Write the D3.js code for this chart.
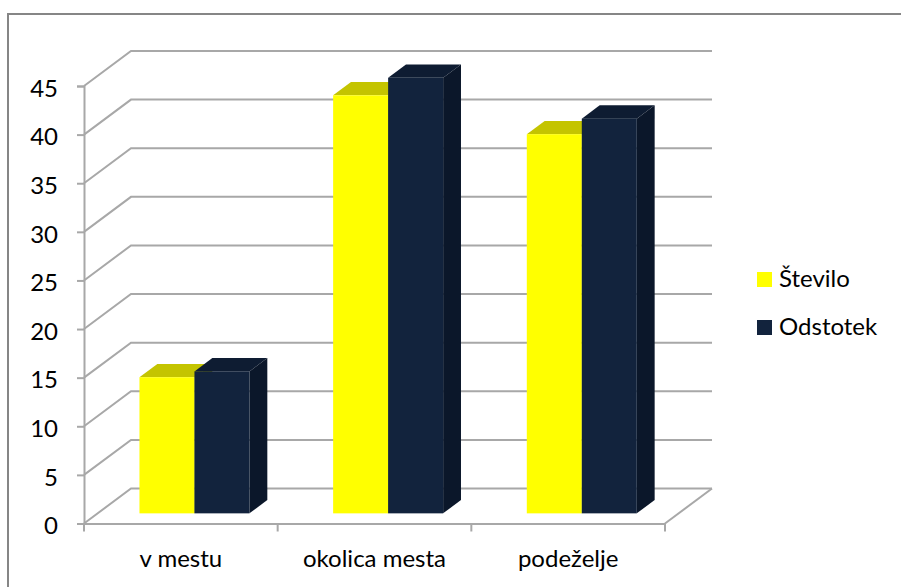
<!DOCTYPE html>
<html>
<head>
<meta charset="utf-8">
<script src="https://cdn.jsdelivr.net/npm/d3@7"></script>
<style>
  html, body { margin: 0; padding: 0; background: #fff; }
  svg { display: block; font-family: Lato, "Open Sans", sans-serif; }
</style>
</head>
<body>
<svg id="chart" width="901" height="587"></svg>
<script>
// Data
const categories = ["v mestu", "okolica mesta", "podeželje"];
const seriesNames = ["Število", "Odstotek"];
const stevilo = [14, 43, 39];
const odstotek = [14.6, 44.8, 40.6];
const yTicks = [0, 5, 10, 15, 20, 25, 30, 35, 40, 45];

// Look
const faceColors = {
  "Število":  { front: "#ffff00", top: "#c4c400", side: "#b5b500" },
  "Odstotek": { front: "#12233d", top: "#0e1c32", side: "#0b172a" }
};
const gridColor = "#a8a8a8";
const fontSize = 24;

const svg = d3.select("#chart");

// Outer frame (only left and top edges fall inside the view)
svg.append("rect")
  .attr("x", 8).attr("y", 14)
  .attr("width", 1200).attr("height", 1200)
  .attr("fill", "none").attr("stroke", "#868686").attr("stroke-width", 2);

// Front plane of the 3D box and the depth offset of its back wall
const frontLeft = 84, frontRight = 665;
const depthX = 47, depthY = -35;

const x0 = d3.scaleBand().domain(categories).range([frontLeft, frontRight]).padding(0);
const y = d3.scaleLinear().domain([0, 45]).range([523.5, 86]);

const groupWidth = 110;
const x1 = d3.scaleBand().domain(seriesNames).range([0, groupWidth]).padding(0);

// bars stand at a fraction of the floor depth
const barDepthStart = 0.29, barDepthSize = 0.38;

const g = svg.append("g");

// Back wall and left wall gridlines
yTicks.forEach(t => {
  const yf = y(t), yb = y(t) + depthY;
  g.append("path")
    .attr("d", `M${frontLeft},${yf} L${frontLeft + depthX},${yb} L${frontRight + depthX},${yb}`)
    .attr("fill", "none").attr("stroke", gridColor).attr("stroke-width", 2);
});

// Floor right edge
g.append("line")
  .attr("x1", frontRight).attr("y1", y(0))
  .attr("x2", frontRight + depthX).attr("y2", y(0) + depthY)
  .attr("stroke", gridColor).attr("stroke-width", 2);

// Value axis
const yAxis = d3.axisLeft(y).tickValues(yTicks).tickSize(7).tickPadding(19);
const yAxisG = svg.append("g").attr("transform", `translate(${frontLeft},0)`).call(yAxis);
yAxisG.select(".domain").attr("stroke", gridColor).attr("stroke-width", 2);
yAxisG.selectAll(".tick line").attr("stroke", gridColor).attr("stroke-width", 2);
yAxisG.selectAll(".tick text")
  .attr("font-family", "Lato, sans-serif").attr("font-size", fontSize)
  .attr("dy", "0.43em").attr("fill", "#000");

// Category axis
const xAxis = d3.axisBottom(x0).tickSize(0).tickPadding(26);
const xAxisG = svg.append("g").attr("transform", `translate(0,${y(0)})`).call(xAxis);
xAxisG.select(".domain").attr("stroke", gridColor).attr("stroke-width", 2);
xAxisG.selectAll(".tick text")
  .attr("font-family", "Lato, sans-serif").attr("font-size", fontSize).attr("fill", "#000");
// boundary ticks between categories
const bounds = categories.map(c => x0(c)).concat([x0(categories[categories.length - 1]) + x0.bandwidth()]);
xAxisG.selectAll(".bound").data(bounds).join("line")
  .attr("class", "bound")
  .attr("x1", d => d).attr("x2", d => d)
  .attr("y1", 0).attr("y2", 8)
  .attr("stroke", gridColor).attr("stroke-width", 2);

// Bars
const values = { "Število": stevilo, "Odstotek": odstotek };
const ox = depthX * barDepthStart, oy = depthY * barDepthStart;
const bx = depthX * barDepthSize, by = depthY * barDepthSize;

const bars = svg.append("g");
categories.forEach((cat, i) => {
  seriesNames.forEach(s => {
    const v = values[s][i];
    const xl = x0(cat) + (x0.bandwidth() - groupWidth) / 2 + x1(s) + ox;
    const xr = xl + x1.bandwidth();
    const yt = y(v) + oy;
    const yb = y(0) + oy;
    const c = faceColors[s];
    // top face
    bars.append("path")
      .attr("d", `M${xl},${yt} L${xr},${yt} L${xr + bx},${yt + by} L${xl + bx},${yt + by}Z`)
      .attr("fill", c.top);
    // side face
    bars.append("path")
      .attr("d", `M${xr},${yt} L${xr + bx},${yt + by} L${xr + bx},${yb + by} L${xr},${yb}Z`)
      .attr("fill", c.side);
    // front face
    bars.append("rect")
      .attr("x", xl).attr("y", yt)
      .attr("width", xr - xl).attr("height", yb - yt)
      .attr("fill", c.front);
  });
});

// Legend
const legend = svg.append("g").attr("transform", "translate(757,272)");
seriesNames.forEach((s, i) => {
  const row = legend.append("g").attr("transform", `translate(0,${i * 48})`);
  row.append("rect").attr("width", 15).attr("height", 15).attr("fill", faceColors[s].front);
  row.append("text")
    .attr("x", 22).attr("y", 15)
    .attr("font-family", "Lato, sans-serif").attr("font-size", fontSize).attr("fill", "#000")
    .text(s);
});
</script>
</body>
</html>
